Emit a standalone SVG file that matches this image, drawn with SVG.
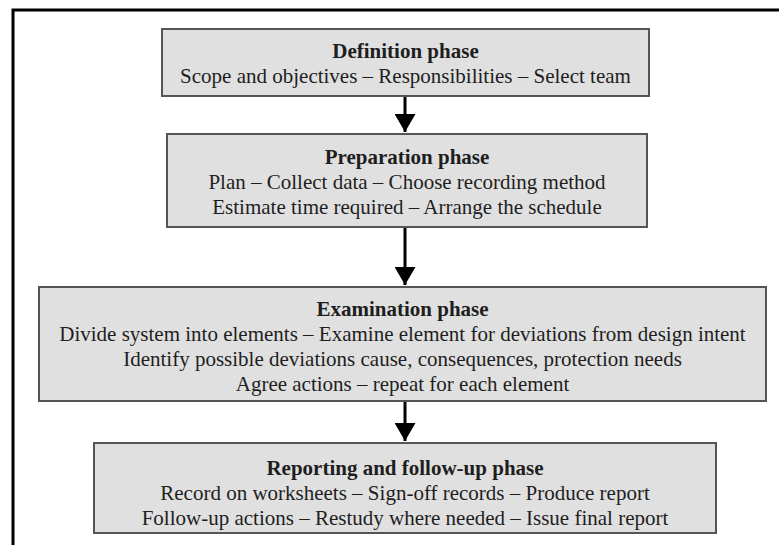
<svg xmlns="http://www.w3.org/2000/svg" width="779" height="545" viewBox="0 0 779 545">
<style>
.box{fill:#e0e0e0;stroke:#555;stroke-width:2}
.t{font-family:"Liberation Serif","Times New Roman",serif;font-size:21px;fill:#1e1e1e;text-anchor:middle}
.b{font-weight:bold}
.c{stroke:#000;stroke-width:3;fill:none}
</style>
<defs>
<marker id="ah" markerWidth="6" markerHeight="7" refX="6" refY="3.5" orient="auto" markerUnits="strokeWidth">
<path d="M0,0 L6,3.5 L0,7 Z" fill="#000"/>
</marker>
</defs>
<rect x="0" y="0" width="779" height="545" fill="#fff"/>
<path d="M13,560 L13,10 L790,10" fill="none" stroke="#000" stroke-width="3"/>
<g id="connectors">
<line class="c" x1="405" y1="97" x2="405" y2="132" marker-end="url(#ah)"/>
<line class="c" x1="405" y1="228" x2="405" y2="285" marker-end="url(#ah)"/>
<line class="c" x1="405" y1="402" x2="405" y2="441" marker-end="url(#ah)"/>
</g>
<g id="definition">
<rect class="box" x="162" y="29" width="487" height="67"/>
<text class="t b" x="405.5" y="58">Definition phase</text>
<text class="t" x="405.5" y="83">Scope and objectives – Responsibilities – Select team</text>
</g>
<g id="preparation">
<rect class="box" x="167" y="134" width="480" height="93"/>
<text class="t b" x="407" y="164">Preparation phase</text>
<text class="t" x="407" y="189">Plan – Collect data – Choose recording method</text>
<text class="t" x="407" y="214">Estimate time required – Arrange the schedule</text>
</g>
<g id="examination">
<rect class="box" x="39" y="287" width="727" height="114"/>
<text class="t b" x="402.5" y="316">Examination phase</text>
<text class="t" x="402.5" y="341">Divide system into elements – Examine element for deviations from design intent</text>
<text class="t" x="402.5" y="366">Identify possible deviations cause, consequences, protection needs</text>
<text class="t" x="402.5" y="391">Agree actions – repeat for each element</text>
</g>
<g id="reporting">
<rect class="box" x="94" y="443" width="622" height="90"/>
<text class="t b" x="405" y="475">Reporting and follow-up phase</text>
<text class="t" x="405" y="500">Record on worksheets – Sign-off records – Produce report</text>
<text class="t" x="405" y="525">Follow-up actions – Restudy where needed – Issue final report</text>
</g>
</svg>
